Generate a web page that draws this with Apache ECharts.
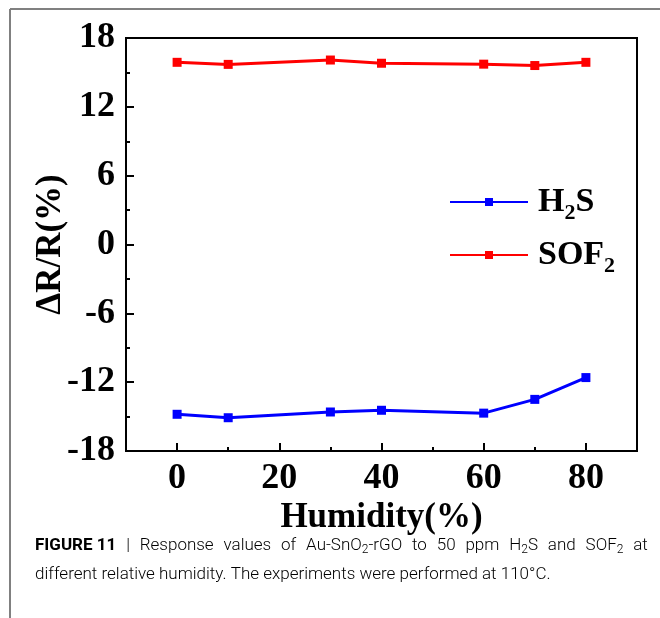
<!DOCTYPE html>
<html>
<head>
<meta charset="utf-8">
<script src="https://cdn.jsdelivr.net/npm/echarts@6/dist/echarts.min.js"></script>
<style>
html,body{margin:0;padding:0;background:#fff;}
#chart{width:660px;height:618px;}
</style>
</head>
<body>
<div id="chart"></div>
<script>
const humidity = [0, 10, 30, 40, 60, 70, 80];
const h2sValues = [-14.8, -15.1, -14.6, -14.45, -14.7, -13.5, -11.6];
const sof2Values = [15.88, 15.7, 16.08, 15.8, 15.72, 15.6, 15.88];
const xMajorTicks = [0, 20, 40, 60, 80];
const xMinorTicks = [10, 30, 50, 70];
const seriesNames = ['H2S', 'SOF2'];
const captionLine1Words = ['|', 'Response', 'values', 'of', 'Au-SnO_2-rGO', 'to', '50', 'ppm', 'H_2S', 'and', 'SOF_2', 'at'];
const captionLine2 = 'different relative humidity. The experiments were performed at 110°C.';

const serif = '"Liberation Serif", "Times New Roman", Times, serif';
const capFont = 'Roboto, "Liberation Sans", Arial, sans-serif';
const chart = echarts.init(document.getElementById('chart'));

function pairs(xs, ys) { return xs.map((x, i) => [x, ys[i]]); }

const legendRich = {
  n: { fontFamily: serif, fontWeight: 'bold', fontSize: 34, color: '#000' },
  s: { fontFamily: serif, fontWeight: 'bold', fontSize: 22, color: '#000', padding: [22, 0, 0, 0] }
};

const capRich = {
  b: { fontFamily: capFont, fontWeight: 'bold', fontSize: 17, color: '#222' },
  r: { fontFamily: capFont, fontWeight: 300, fontSize: 17, color: '#333' },
  s: { fontFamily: capFont, fontWeight: 300, fontSize: 12, color: '#333', padding: [8, 0, 0, 0] },
  sp: { fontFamily: capFont, fontSize: 17, width: 9.85 }
};

function fmtWord(w) {
  return w.split('_2').map(p => p ? '{r|' + p + '}' : '').join('{s|2}');
}
// justified first caption line: wider word spacing
const line1Text = '{b|FIGURE 11}{sp| }' + captionLine1Words.map(fmtWord).join('{sp| }');

chart.setOption({
  animation: false,
  backgroundColor: '#fff',
  grid: { left: 126, top: 38, right: 23, bottom: 167, show: true, borderColor: '#000', borderWidth: 2, containLabel: false },
  xAxis: [
    {
      type: 'value', min: -10, max: 90,
      axisLine: { show: true, onZero: false, lineStyle: { color: '#000', width: 2 } },
      axisTick: { show: true, inside: true, length: 8, customValues: xMajorTicks, lineStyle: { color: '#000', width: 2 } },
      axisLabel: { customValues: xMajorTicks, margin: 10, fontFamily: serif, fontWeight: 'bold', fontSize: 36, color: '#000' },
      splitLine: { show: false },
      name: 'Humidity(%)', nameLocation: 'middle', nameGap: 49, nameMoveOverlap: false,
      nameTextStyle: { fontFamily: serif, fontWeight: 'bold', fontSize: 35, color: '#000' }
    },
    {
      type: 'value', min: -10, max: 90, position: 'bottom',
      axisLine: { show: false, onZero: false },
      axisTick: { show: true, inside: true, length: 4, customValues: xMinorTicks, lineStyle: { color: '#000', width: 2 } },
      axisLabel: { show: false },
      splitLine: { show: false }
    }
  ],
  yAxis: {
    type: 'value', min: -18, max: 18, interval: 6,
    axisLine: { show: true, onZero: false, lineStyle: { color: '#000', width: 2 } },
    axisTick: { show: true, inside: true, length: 8, lineStyle: { color: '#000', width: 2 } },
    minorTick: { show: true, splitNumber: 2, length: 4, lineStyle: { color: '#000', width: 2 } },
    axisLabel: { margin: 11, fontFamily: serif, fontWeight: 'bold', fontSize: 36, color: '#000' },
    splitLine: { show: false },
    name: 'ΔR/R(%)', nameLocation: 'middle', nameGap: 58, nameRotate: 90, nameMoveOverlap: false,
    nameTextStyle: { fontFamily: serif, fontWeight: 'bold', fontSize: 35, color: '#000' }
  },
  legend: {
    orient: 'vertical', left: 444, top: 180,
    itemWidth: 78, itemHeight: 10, itemGap: 14,
    data: seriesNames,
    formatter: function (name) {
      return name === 'H2S' ? '{n|H}{s|2}{n|S}' : '{n|SOF}{s|2}';
    },
    textStyle: { rich: legendRich, padding: [0, 0, 0, 5] }
  },
  graphic: [
    { type: 'line', shape: { x1: 10, y1: 9, x2: 660, y2: 9 }, style: { stroke: '#808080', lineWidth: 2 } },
    { type: 'line', shape: { x1: 10, y1: 9, x2: 10, y2: 618 }, style: { stroke: '#808080', lineWidth: 2 } },
    { type: 'text', left: 35, top: 537, style: { text: line1Text, rich: capRich } },
    { type: 'text', left: 35, top: 566, style: { text: '{r|' + captionLine2 + '}', rich: capRich } }
  ],
  series: [
    {
      name: 'H2S', type: 'line', xAxisIndex: 0, data: pairs(humidity, h2sValues),
      symbol: 'rect', symbolSize: 9,
      lineStyle: { color: '#0000ff', width: 3 }, itemStyle: { color: '#0000ff' }
    },
    {
      name: 'SOF2', type: 'line', xAxisIndex: 0, data: pairs(humidity, sof2Values),
      symbol: 'rect', symbolSize: 9,
      lineStyle: { color: '#ff0000', width: 3 }, itemStyle: { color: '#ff0000' }
    }
  ]
});
</script>
</body>
</html>
